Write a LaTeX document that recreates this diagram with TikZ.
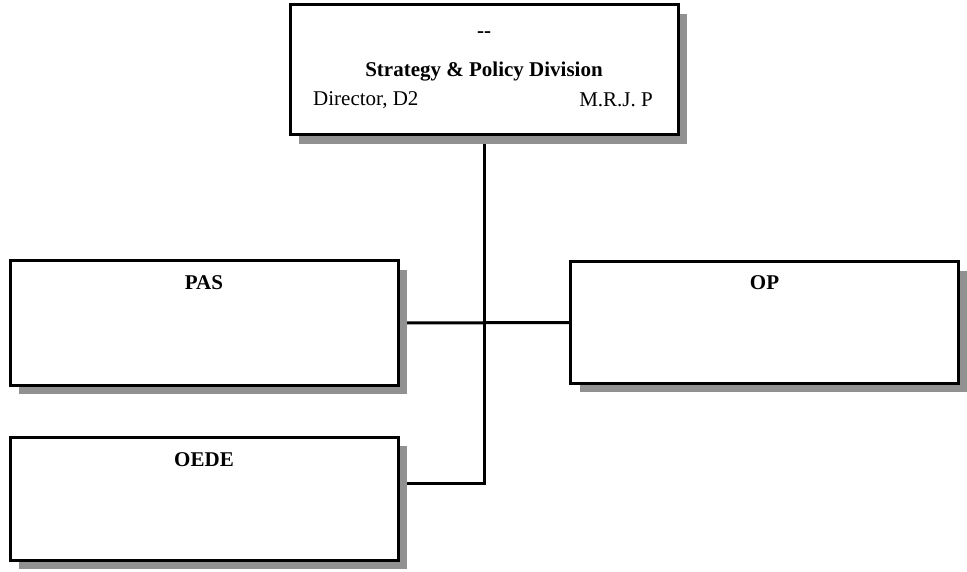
\documentclass[tikz,border=0pt]{standalone}
\usepackage{fontspec}
\setmainfont{Liberation Serif}
\usetikzlibrary{shadows,backgrounds}
\definecolor{shadowgray}{HTML}{919191}
\begin{document}
\begin{tikzpicture}[x=1pt,y=-1pt,
  box/.style={draw=black,line width=3pt,fill=white,rectangle,inner sep=0pt,
    minimum width=388pt,minimum height=124pt,
    general shadow={fill=shadowgray,shadow xshift=9pt,shadow yshift=-9pt}},
  title/.style={font=\fontsize{21}{25}\selectfont\bfseries,inner sep=0pt},
  plain/.style={font=\fontsize{21}{25}\selectfont,inner sep=0pt},
  link/.style={draw=black,line width=3pt}]
\useasboundingbox (0,0) rectangle (967,572);
\node[box,minimum height=130pt] (top) at (484,70) {};
\node[box] (pas) at (204,323) {};
\node[box,minimum height=121pt] (op) at (764.5,322.5) {};
\node[box,minimum height=123pt] (oede) at (204,498.5) {};
\node[title] (dash) at (484,35) {{-}{-}};
\node[title] (spd) at (484,72) {Strategy \& Policy Division};
\node[plain,anchor=west] (dir) at (313,100) {Director, D2};
\node[plain,anchor=east] (mrj) at (653,100) {M.R.J. P};
\node[title] (past) at (204,283) {PAS};
\node[title] (opt) at (764.5,283) {OP};
\node[title] (oedet) at (204,460) {OEDE};
\coordinate (jn) at (484,483);
\begin{scope}[on background layer]
\fill[white] (0,0) rectangle (967,572);
\draw[link] (pas.east) -- (op.west);
\draw[link] (top.south) -- (jn) -- (oede.east |- jn);
\end{scope}
\end{tikzpicture}
\end{document}
